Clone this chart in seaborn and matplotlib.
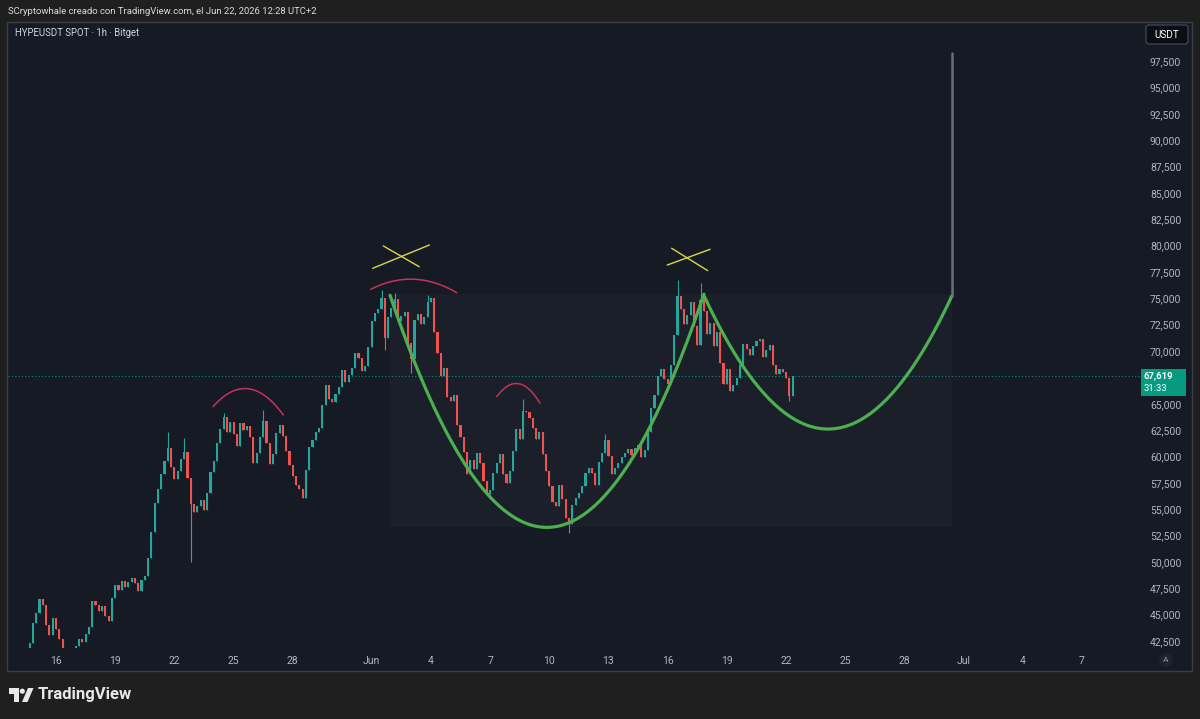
import numpy as np
import pandas as pd
import matplotlib
matplotlib.use("Agg")
import matplotlib.pyplot as plt
import matplotlib.dates as mdates
import matplotlib.transforms as mtransforms
from matplotlib.patches import Rectangle, FancyBboxPatch, Circle, Polygon
import seaborn as sns

# HYPEUSDT, 4h closes, first bar opens 2026-05-14 16:00
start_time = "2026-05-14 16:00"
first_open = 41800
closes = [
    42300, 44200,                                   # May 14
    45200, 46500, 45900, 44000, 43100, 44700,       # May 15
    43600, 42700, 41700, 41200, 41000, 41600,       # May 16
    42000, 42700, 42400, 43200, 43800, 46300,       # May 17
    45900, 45300, 45800, 44900, 44400, 46600,       # May 18
    47800, 47300, 48200, 47600, 48100, 48500,       # May 19
    48000, 47200, 48300, 48700, 50400, 52800,       # May 20
    55600, 56900, 58300, 59600, 60800, 59000,       # May 21
    57900, 58600, 59800, 60400, 58000, 55500,       # May 22
    54700, 55300, 55900, 54900, 56500, 58500,       # May 23
    59600, 61300, 62600, 63700, 62300, 63300,       # May 24
    62100, 61000, 63200, 62500, 62900, 61800,       # May 25
    59400, 60300, 61800, 63400, 61300, 59300,       # May 26
    60200, 62200, 63000, 61900, 60500, 59200,       # May 27
    58100, 57300, 56900, 56100, 58700, 60900,       # May 28
    61600, 62300, 62700, 64900, 66800, 65400,       # May 29
    65200, 65900, 66600, 68200, 67100, 67700,       # May 30
    68400, 69800, 69300, 68100, 68600, 70400,       # May 31
    72800, 73600, 74000, 75000, 71200, 73200,       # Jun 1
    74100, 74900, 72800, 73300, 73700, 70800,       # Jun 2
    69200, 72900, 73500, 72600, 73200, 74600,       # Jun 3
    75000, 71800, 69800, 67600, 68400, 65600,       # Jun 4
    65300, 65800, 63000, 61800, 60400, 58300,       # Jun 5
    59700, 58800, 60300, 59400, 57700, 56400,       # Jun 6
    56800, 58400, 59400, 60200, 58300, 57500,       # Jun 7
    58600, 60500, 62600, 61700, 64300, 64200,       # Jun 8
    63600, 62700, 61700, 62300, 60200, 58600,       # Jun 9
    57200, 55700, 55300, 57300, 56000, 54200,       # Jun 10
    53600, 55400, 56100, 56500, 57200, 58400,       # Jun 11
    58900, 58400, 57300, 59500, 60300, 61600,       # Jun 12
    60000, 58300, 58900, 59400, 59900, 60300,       # Jun 13
    60700, 60100, 60800, 61100, 59900, 60600,       # Jun 14
    62300, 64600, 65800, 67600, 68300, 67300,       # Jun 15
    66900, 68700, 71500, 75200, 74000, 72600,       # Jun 16
    73400, 74600, 72400, 70600, 74800, 73800,       # Jun 17
    71600, 72700, 70500, 71800, 68900, 66900,       # Jun 18
    68300, 66200, 66800, 67400, 68700, 70700,       # Jun 19
    70200, 69600, 70500, 70900, 71100, 69400,       # Jun 20
    70100, 70600, 68700, 67800, 68300, 68000,       # Jun 21
    67400, 65700, 67619,                            # Jun 22
]
# long wicks
wick_times = ["2026-05-21 16:00", "2026-05-22 12:00", "2026-05-22 20:00", "2026-05-24 12:00",
              "2026-05-26 12:00", "2026-06-01 12:00", "2026-06-01 16:00", "2026-06-02 04:00",
              "2026-06-03 00:00", "2026-06-03 20:00", "2026-06-08 16:00", "2026-06-11 00:00",
              "2026-06-12 20:00", "2026-06-16 12:00", "2026-06-17 16:00", "2026-06-22 04:00"]
wick_prices = [62350, 61720, 50020, 64100, 64400, 75800, 70100, 75500,
               67900, 75300, 65400, 52700, 62100, 76700, 76400, 65300]

# drawings
cup1_dates = ["2026-06-01 22:20", "2026-06-03 02:10", "2026-06-05 11:30", "2026-06-07 00:00",
              "2026-06-09 21:20", "2026-06-11 04:50", "2026-06-13 10:20", "2026-06-15 02:40",
              "2026-06-16 06:30", "2026-06-17 20:10"]
cup1_prices = [75600, 69150, 59660, 56150, 53310, 53970, 57770, 63170, 67250, 75310]
cup2_dates = ["2026-06-17 20:10", "2026-06-19 00:15", "2026-06-19 16:05", "2026-06-21 08:10",
              "2026-06-22 04:50", "2026-06-23 23:30", "2026-06-30 09:50"]
cup2_prices = [75310, 71040, 68860, 65350, 63170, 62980, 75200]
arc_dates = [["2026-05-23 23:00", "2026-05-25 07:55", "2026-05-27 12:30"],
             ["2026-05-31 22:50", "2026-06-02 18:30", "2026-06-05 07:25"],
             ["2026-06-07 08:10", "2026-06-08 12:30", "2026-06-09 12:45"]]
arc_prices = [[64720, 66400, 63930], [75850, 76800, 75530], [65670, 66870, 65040]]
cross_dates = [["2026-06-01 01:10", "2026-06-03 22:05"], ["2026-06-01 14:10", "2026-06-03 09:50"],
               ["2026-06-15 23:30", "2026-06-18 03:35"], ["2026-06-16 04:50", "2026-06-18 00:45"]]
cross_prices = [[77840, 80050], [79960, 77990], [78150, 79640], [79740, 77620]]
range_dates = ["2026-06-01 22:20", "2026-06-30 09:50"]
range_prices = [53300, 75400]
target_date = "2026-06-30 09:50"
target_prices = [75200, 98250]

tick_dates = ["2026-05-16", "2026-05-19", "2026-05-22", "2026-05-25", "2026-05-28", "2026-06-01",
              "2026-06-04", "2026-06-07", "2026-06-10", "2026-06-13", "2026-06-16", "2026-06-19",
              "2026-06-22", "2026-06-25", "2026-06-28", "2026-07-01", "2026-07-04", "2026-07-07"]
tick_labels = ["16", "19", "22", "25", "28", "Jun", "4", "7", "10", "13", "16", "19",
               "22", "25", "28", "Jul", "4", "7"]
price_ticks = list(range(42500, 97501, 2500))

OUTER = "#1f1f1f"
PANE = "#161a25"
UP = "#26a69a"
DOWN = "#ef5350"
TXT = "#b2b5be"

sns.set_theme(style="dark", rc={"figure.facecolor": OUTER, "axes.facecolor": "none"})
plt.rcParams["font.family"] = ["Roboto", "DejaVu Sans"]

W, H = 1200, 719
fig = plt.figure(figsize=(W / 100, H / 100), dpi=100)

bg = fig.add_axes([0, 0, 1, 1], zorder=0)
bg.set_xlim(0, W); bg.set_ylim(H, 0); bg.axis("off")
bg.add_patch(Rectangle((7, 22), 1185, 649, fc=PANE, ec="#3a3e49", lw=1))

ax = fig.add_axes([8 / W, 1 - 648 / H, 1132 / W, 626 / H], zorder=1)
ax.set_facecolor("none")


def dnum(d):
    return mdates.date2num(pd.to_datetime(d).to_pydatetime())


base = dnum("2026-05-16")
ax.set_xlim(base - 2.433, base + 54.94)
ax.set_ylim(41834, 101198)

# shaded range box
rx = dnum(range_dates)
ax.add_patch(Rectangle((rx[0], range_prices[0]), rx[1] - rx[0], range_prices[1] - range_prices[0],
                       fc="#2a2e39", alpha=0.28, lw=0, zorder=1))

# candles
times = pd.date_range(start_time, periods=len(closes), freq="4h")
xs = mdates.date2num(times.to_pydatetime())
cl = np.array(closes, float)
op = np.array([first_open] + closes[:-1], float)
hi = np.maximum(op, cl)
lo = np.minimum(op, cl)
for t, p in zip(wick_times, wick_prices):
    i = times.get_loc(pd.Timestamp(t))
    hi[i] = max(hi[i], p)
    lo[i] = min(lo[i], p)
cols = np.where(cl >= op, UP, DOWN)
ax.vlines(xs, lo, hi, colors=cols, lw=0.8, zorder=3)
ax.bar(xs, np.maximum(np.abs(cl - op), 60), bottom=np.minimum(op, cl), width=4 / 24 * 0.65,
       color=cols, lw=0, zorder=3)

# last price line
last = closes[-1]
ax.axhline(last, color="#089981", lw=0.8, ls=(0, (1, 2)), alpha=0.9, zorder=2)


def fitted(dates, prices, deg=2, n=150):
    xd = dnum(dates)
    x0 = xd[0]
    coef = np.polyfit(xd - x0, prices, deg)
    xx = np.linspace(xd[0], xd[-1], n)
    return xx, np.polyval(coef, xx - x0)


for d, p in [(cup1_dates, cup1_prices), (cup2_dates, cup2_prices)]:
    xx, yy = fitted(d, p)
    sns.lineplot(x=xx, y=yy, ax=ax, color="#4caf50", lw=2.3, sort=False, estimator=None, zorder=5)
for d, p in zip(arc_dates, arc_prices):
    xx, yy = fitted(d, p)
    sns.lineplot(x=xx, y=yy, ax=ax, color="#c2345a", lw=1.1, sort=False, estimator=None, zorder=5)
for d, p in zip(cross_dates, cross_prices):
    ax.plot(dnum(d), p, color="#d8d84e", lw=1.0, zorder=5)
tx = dnum(target_date)
ax.plot([tx, tx], target_prices, color="#6b6f7a", lw=1.8, zorder=5)

# axes (the scale label hidden behind the last-price badge is left blank, as on the chart)
ax.set_xticks(dnum(tick_dates))
ax.set_xticklabels(tick_labels)
ax.set_yticks(price_ticks)
ax.set_yticklabels(["" if abs(v - last) < 1500 else f"{v:,}" for v in price_ticks])
ax.yaxis.tick_right()
ax.tick_params(axis="x", length=0, pad=6, labelsize=7.5, labelcolor=TXT)
ax.tick_params(axis="y", length=0, pad=7.2, labelsize=7.5, labelcolor=TXT)
ax.grid(False)
for s in ax.spines.values():
    s.set_visible(False)
ax.set_xlabel(""); ax.set_ylabel("")

# current price label
tr = mtransforms.blended_transform_factory(ax.transAxes, ax.transData)
ax.add_patch(Rectangle((1.0009, last - 1900), 0.0398, 2564, transform=tr, clip_on=False,
                       fc="#089981", lw=0, zorder=6))
ax.text(1.0035, last + 40, f"{last:,}", transform=tr, color="white", fontsize=6.8,
        fontweight="bold", va="center", ha="left", zorder=7)
ax.text(1.0035, last - 1190, "31:33", transform=tr, color="white", fontsize=6.8,
        va="center", ha="left", zorder=7)

# overlay
fg = fig.add_axes([0, 0, 1, 1], zorder=4)
fg.set_xlim(0, W); fg.set_ylim(H, 0); fg.axis("off")
fg.text(8, 11, "SCryptowhale creado con TradingView.com, el Jun 22, 2026 12:28 UTC+2",
        color="#dcdcdc", fontsize=6.8, va="center", ha="left")
fg.text(15, 33, "HYPEUSDT SPOT \u00b7 1h \u00b7 Bitget", color="#d1d4dc", fontsize=6.9,
        va="center", ha="left")
fg.add_patch(FancyBboxPatch((1146, 25), 42, 19, boxstyle="round,pad=0,rounding_size=3",
                            fc="#0c0e14", ec="#4a4e59", lw=0.8))
fg.text(1167, 35, "USDT", color="white", fontsize=7.2, va="center", ha="center")
fg.add_patch(Circle((1166, 660), 7, fc="#1e222d", lw=0))
fg.text(1166, 660, "A", color="#9598a1", fontsize=6, va="center", ha="center")

# TradingView logo
fg.add_patch(Polygon([(9, 688), (19, 688), (19, 702), (14, 702), (14, 694), (9, 694)],
                     closed=True, fc="#e8e8e8", lw=0))
fg.add_patch(Circle((22.3, 691.2), 2.6, fc="#e8e8e8", lw=0))
fg.add_patch(Polygon([(22, 702), (27.5, 702), (33.5, 688), (28, 688)], closed=True,
                     fc="#e8e8e8", lw=0))
fg.text(38, 695, "TradingView", color="#e8e8e8", fontsize=12, fontweight="bold",
        va="center", ha="left")

fig.savefig("out.png", dpi=100, facecolor=OUTER)
